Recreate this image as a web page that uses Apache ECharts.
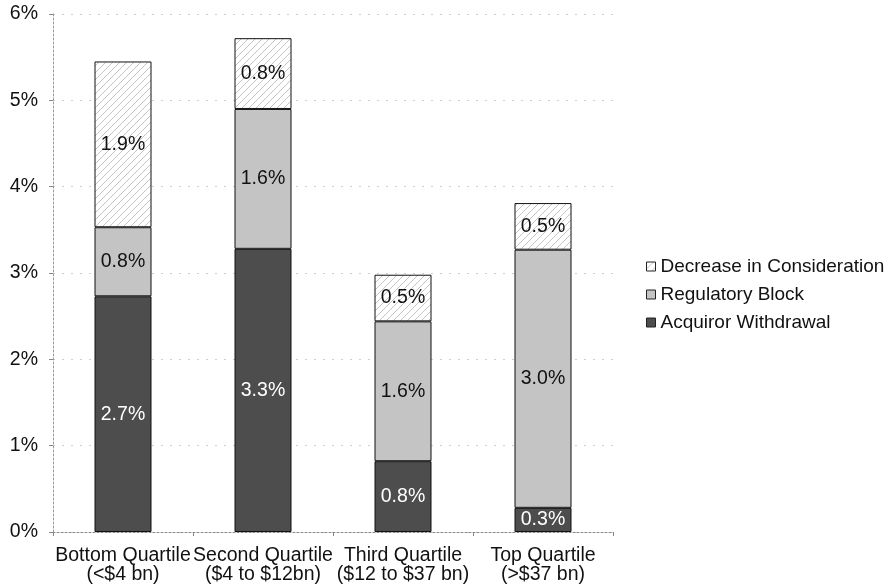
<!DOCTYPE html>
<html><head><meta charset="utf-8">
<script src="https://cdn.jsdelivr.net/npm/echarts@6/dist/echarts.min.js"></script>
<style>html,body{margin:0;padding:0;background:#fff}#c{width:889px;height:586px}</style>
</head><body><div id="c"></div>
<script>
var categories = ['Bottom Quartile\n(<$4 bn)', 'Second Quartile\n($4 to $12bn)', 'Third Quartile\n($12 to $37 bn)', 'Top Quartile\n(>$37 bn)'];
var acquirorWithdrawal = [2.73, 3.28, 0.82, 0.28];
var regulatoryBlock = [0.80, 1.62, 1.62, 2.99];
var decreaseConsideration = [1.92, 0.82, 0.54, 0.54];
var yTicks = [0, 1, 2, 3, 4, 5, 6];

function hatch() {
  var c = document.createElement('canvas');
  c.width = 7; c.height = 7;
  var g = c.getContext('2d');
  g.fillStyle = '#ffffff'; g.fillRect(0, 0, 7, 7);
  g.strokeStyle = '#c4c4c4'; g.lineWidth = 1;
  g.beginPath(); g.moveTo(0, 7); g.lineTo(7, 0); g.stroke();
  g.beginPath(); g.moveTo(-1, 1); g.lineTo(1, -1); g.stroke();
  g.beginPath(); g.moveTo(6, 8); g.lineTo(8, 6); g.stroke();
  return c;
}
var font = '"Liberation Sans", Arial, sans-serif';
var FS = 19.5;
function lbl(color) {
  return { show: true, position: 'inside', color: color, fontFamily: font, fontSize: FS,
    formatter: function (p) { return p.value.toFixed(1) + '%'; } };
}
var chart = echarts.init(document.getElementById('c'), null, { renderer: 'canvas' });
chart.setOption({
  animation: false,
  backgroundColor: '#fff',
  grid: { left: 53, right: 276, top: 14, bottom: 54 },
  legend: {
    orient: 'vertical', left: 641, top: 252, itemWidth: 9, itemHeight: 9, itemGap: 9, icon: 'rect',
    itemStyle: { borderColor: '#222', borderWidth: 1 },
    textStyle: { fontFamily: font, fontSize: 19, color: '#111' },
    data: ['Decrease in Consideration', 'Regulatory Block', 'Acquiror Withdrawal']
  },
  xAxis: {
    type: 'category', data: categories,
    axisLine: { lineStyle: { color: '#888', type: [2, 2] } },
    axisTick: { show: true, length: 4, lineStyle: { color: '#888' } },
    axisLabel: { fontFamily: font, fontSize: FS, color: '#111', lineHeight: 19, margin: 14, interval: 0 }
  },
  yAxis: {
    type: 'value', min: 0, max: 6, interval: 1,
    axisLine: { show: true, lineStyle: { color: '#999', type: [2, 2] } },
    axisTick: { show: true, length: 4, lineStyle: { color: '#888' } },
    splitLine: { lineStyle: { color: '#cfcfcf', type: [2, 7] } },
    axisLabel: { fontFamily: font, fontSize: FS, color: '#111', margin: 15,
      formatter: function (v) { return yTicks.indexOf(v) >= 0 ? v + '%' : ''; } }
  },
  series: [
    { name: 'Acquiror Withdrawal', type: 'bar', stack: 's', barWidth: 57, data: acquirorWithdrawal,
      itemStyle: { color: '#4d4d4d', borderColor: '#111', borderWidth: 1 }, label: lbl('#fff') },
    { name: 'Regulatory Block', type: 'bar', stack: 's', barWidth: 57, data: regulatoryBlock,
      itemStyle: { color: '#c4c4c4', borderColor: '#111', borderWidth: 1 }, label: lbl('#111') },
    { name: 'Decrease in Consideration', type: 'bar', stack: 's', barWidth: 57, data: decreaseConsideration,
      itemStyle: { color: { image: hatch(), repeat: 'repeat' }, borderColor: '#111', borderWidth: 1 }, label: lbl('#111') }
  ]
});
</script></body></html>
